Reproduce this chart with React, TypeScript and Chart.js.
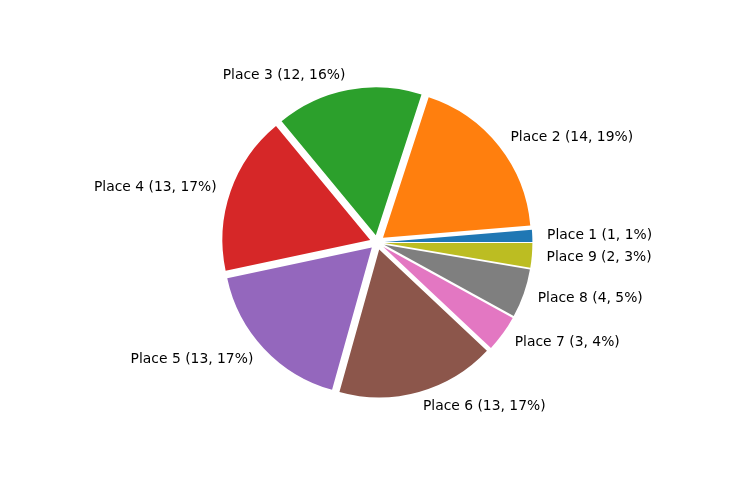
import React, { useEffect, useRef } from "react";
import { Chart, registerables } from "chart.js";

Chart.register(...registerables);

// Slices in the order they run round the pie (counter-clockwise from 3 o'clock)
const places = [
  "Place 1",
  "Place 2",
  "Place 3",
  "Place 4",
  "Place 5",
  "Place 6",
  "Place 7",
  "Place 8",
  "Place 9",
];
const counts = [1, 14, 12, 13, 13, 13, 3, 4, 2];
const colours = [
  "#1f77b4",
  "#ff7f0e",
  "#2ca02c",
  "#d62728",
  "#9467bd",
  "#8c564b",
  "#e377c2",
  "#7f7f7f",
  "#bcbd22",
];

const EXPLODE = 7.4; // px each slice is pushed out
const LABEL_DISTANCE = 1.1;
const FONT = "13.89px 'DejaVu Sans'";

const total = counts.reduce((a, b) => a + b, 0);
const labelText = (i: number) =>
  `${places[i]} (${counts[i]}, ${Math.round((counts[i] / total) * 100)}%)`;

// Chart.js goes clockwise, so feed the slices reversed
const order = places.map((_, i) => i).reverse();

const explodePlugin = {
  id: "explodePlugin",
  beforeDatasetDraw(chart: any, args: any) {
    const ctx = chart.ctx;
    args.meta.data.forEach((arc: any) => {
      const mid = (arc.startAngle + arc.endAngle) / 2;
      ctx.save();
      ctx.translate(Math.cos(mid) * EXPLODE, Math.sin(mid) * EXPLODE);
      arc.draw(ctx);
      ctx.restore();
    });
    return false;
  },
  afterDatasetsDraw(chart: any) {
    const ctx = chart.ctx;
    const meta = chart.getDatasetMeta(0);
    ctx.save();
    ctx.font = FONT;
    ctx.fillStyle = "#000";
    ctx.textBaseline = "middle";
    meta.data.forEach((arc: any, j: number) => {
      const mid = (arc.startAngle + arc.endAngle) / 2;
      const d = EXPLODE + LABEL_DISTANCE * arc.outerRadius;
      const x = arc.x + Math.cos(mid) * d;
      const y = arc.y + Math.sin(mid) * d + 0.4;
      ctx.textAlign = Math.cos(mid) > 0 ? "left" : "right";
      ctx.fillText(labelText(order[j]), x, y);
    });
    ctx.restore();
  },
};

const App: React.FC = () => {
  const canvasRef = useRef<HTMLCanvasElement | null>(null);

  useEffect(() => {
    const ctx = canvasRef.current?.getContext("2d");
    if (!ctx) return;

    const chart = new Chart(ctx, {
      type: "pie",
      data: {
        labels: order.map((i) => places[i]),
        datasets: [
          {
            data: order.map((i) => counts[i]),
            backgroundColor: order.map((i) => colours[i]),
            borderWidth: 0,
          },
        ],
      },
      options: {
        animation: false,
        responsive: true,
        maintainAspectRatio: false,
        rotation: 90,
        radius: 147.8,
        layout: { padding: { left: 18.4, right: 0, top: 4.8, bottom: 0 } },
        plugins: {
          legend: { display: false },
          tooltip: { enabled: false },
        },
      },
      plugins: [explodePlugin],
    });

    return () => chart.destroy();
  }, []);

  return (
    <div
      style={{
        position: "absolute",
        left: 0,
        top: 0,
        width: 736,
        height: 480,
        background: "#fff",
      }}
    >
      <canvas ref={canvasRef}></canvas>
    </div>
  );
};

export default App;
